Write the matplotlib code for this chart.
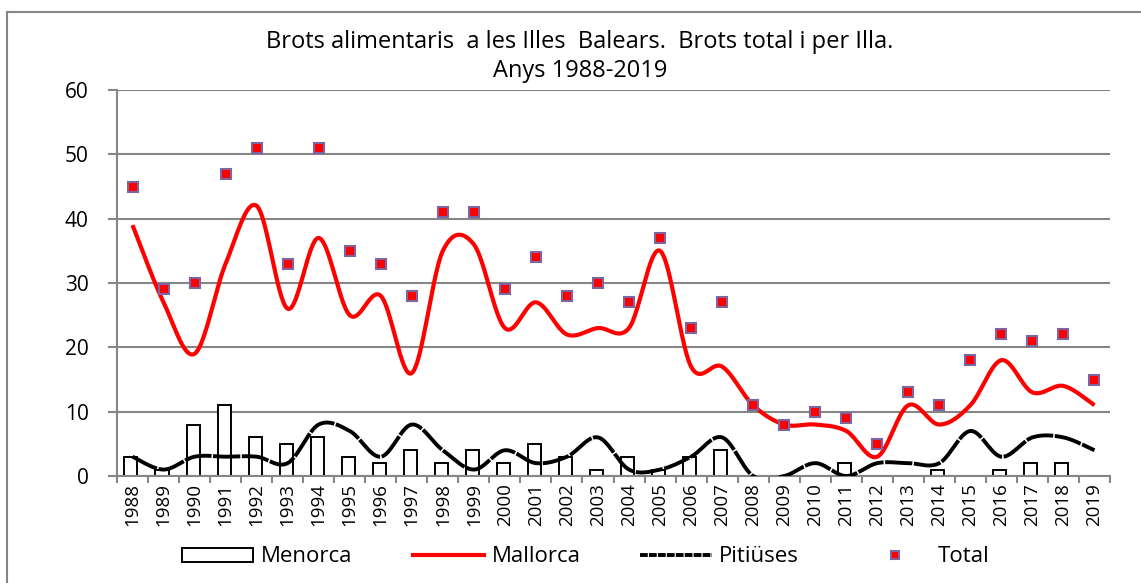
import numpy as np
import matplotlib
matplotlib.use("Agg")
import matplotlib.pyplot as plt
from matplotlib.patches import Rectangle
from matplotlib.lines import Line2D

years = [str(y) for y in range(1988, 2020)]
menorca = [3, 1, 8, 11, 6, 5, 6, 3, 2, 4, 2, 4, 2, 5, 3, 1, 3, 1, 3, 4,
           0, 0, 0, 2, 0, 0, 1, 0, 1, 2, 2, 0]
mallorca = [39, 27, 19, 33, 42, 26, 37, 25, 28, 16, 35, 36, 23, 27, 22, 23, 23, 35, 17, 17,
            11, 8, 8, 7, 3, 11, 8, 11, 18, 13, 14, 11]
pitiuses = [3, 1, 3, 3, 3, 2, 8, 7, 3, 8, 4, 1, 4, 2, 3, 6, 1, 1, 3, 6,
            0, 0, 2, 0, 2, 2, 2, 7, 3, 6, 6, 4]
total = [45, 29, 30, 47, 51, 33, 51, 35, 33, 28, 41, 41, 29, 34, 28, 30, 27, 37, 23, 27,
         11, 8, 10, 9, 5, 13, 11, 18, 22, 21, 22, 15]

plt.rcParams['font.family'] = ['Open Sans', 'DejaVu Sans']


def smooth(xs, ys, n=40):
    P = np.column_stack([xs, ys]).astype(float)
    P = np.vstack([P[0], P, P[-1]])
    out = []
    for i in range(1, len(P) - 2):
        p0, p1, p2, p3 = P[i - 1], P[i], P[i + 1], P[i + 2]
        c1 = p1 + (p2 - p0) / 6.0
        c2 = p2 - (p3 - p1) / 6.0
        t = np.linspace(0, 1, n, endpoint=(i == len(P) - 3))[:, None]
        seg = ((1 - t) ** 3) * p1 + 3 * ((1 - t) ** 2) * t * c1 + 3 * (1 - t) * t ** 2 * c2 + t ** 3 * p2
        out.append(seg)
    out = np.vstack(out)
    return out[:, 0], out[:, 1]


W, H = 1141, 583
fig = plt.figure(figsize=(W / 100, H / 100), dpi=100)
ax = fig.add_axes([117 / W, 1 - 476 / H, (1110 - 117) / W, (476 - 90) / H])

x = np.arange(len(years))
grid_c = '#868686'

ax.bar(x - 0.05, menorca, width=0.42, facecolor='white', edgecolor='black', linewidth=1.4, zorder=2)

sx, sy = smooth(x, mallorca)
ax.plot(sx, sy, color='#FF0000', lw=3.0, zorder=3, solid_capstyle='butt')
px, py = smooth(x, pitiuses)
ax.plot(px, py, color='black', lw=2.8, zorder=3, dashes=(7, 0.4), dash_capstyle='butt')
ax.plot(x, total, ls='none', marker='s', markersize=7.5, markerfacecolor='#FF0000',
        markeredgecolor='#8064A2', markeredgewidth=1.5, zorder=4)

ax.set_xlim(-0.5, len(years) - 0.5)
ax.set_ylim(0, 60)
ax.set_yticks(range(0, 61, 10))
ax.yaxis.grid(True, color=grid_c, lw=1.5)
ax.set_axisbelow(True)
for s in ['top', 'right']:
    ax.spines[s].set_visible(False)
for s in ['left', 'bottom']:
    ax.spines[s].set_color(grid_c)
    ax.spines[s].set_linewidth(1.5)

ax.set_xticks(x)
ax.set_xticklabels(years, rotation=90, fontsize=13.5)
ax.set_xticks(np.arange(-0.5, len(years), 1), minor=True)
ax.tick_params(axis='x', which='major', length=0, pad=5)
ax.tick_params(axis='x', which='minor', length=5, color=grid_c, width=1.5, direction='out')
ax.tick_params(axis='y', length=6.5, color=grid_c, width=1.5, labelsize=15, pad=14)

fig.text(580 / W, 1 - 42 / H, "Brots alimentaris  a les Illes  Balears.  Brots total i per Illa.",
         ha='center', va='center', fontsize=17)
fig.text(580 / W, 1 - 71 / H, "Anys 1988-2019", ha='center', va='center', fontsize=17)

handles = [
    Rectangle((0, 0), 1, 1, facecolor='white', edgecolor='black', lw=1.4),
    Line2D([], [], color='#FF0000', lw=3.0),
    Line2D([], [], color='black', lw=2.8, dashes=(2, 0.3)),
    Line2D([], [], ls='none', marker='s', markersize=6, markerfacecolor='#FF0000',
           markeredgecolor='#8064A2', markeredgewidth=1.5),
]
labels = ['Menorca', 'Mallorca', 'Pitiüses', 'Total']
fig.legend(handles, labels, loc='center', bbox_to_anchor=(586 / W, 1 - 557 / H), ncol=4,
           frameon=False, fontsize=16, handlelength=3.2, handleheight=0.6,
           handletextpad=0.35, columnspacing=2.7)

fig.patches.append(Rectangle((7 / W, -0.1), 2, 1 - 12 / H + 0.1, transform=fig.transFigure,
                             facecolor='none', edgecolor=grid_c, lw=1.5))

fig.savefig('out.png', dpi=100)
